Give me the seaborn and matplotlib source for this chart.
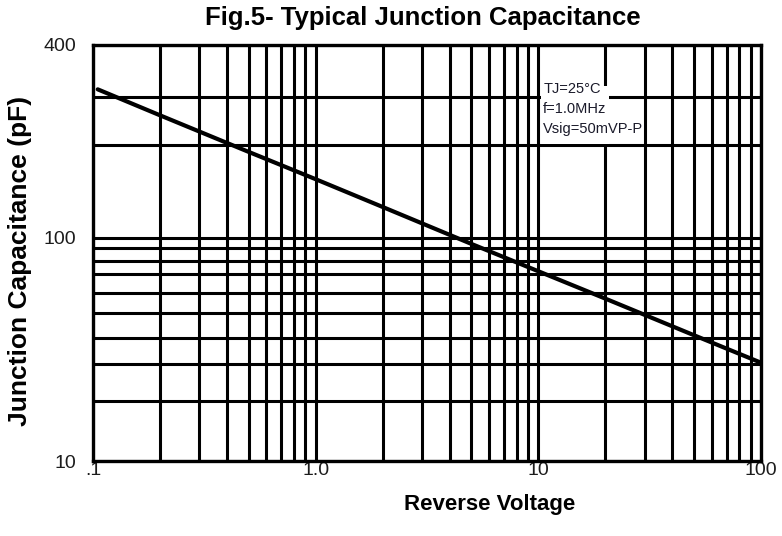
import numpy as np
import pandas as pd
import matplotlib
matplotlib.use("Agg")
import matplotlib.pyplot as plt
import seaborn as sns
from matplotlib.ticker import FixedLocator, FixedFormatter, NullFormatter
from matplotlib.patches import Rectangle

# ---- data ----
voltage = [0.105, 0.2, 0.5, 1.0, 2.0, 5.0, 10.0, 20.0, 50.0, 98.0]
capacitance = [313, 257, 190, 155, 126, 94, 72, 57, 41, 30.7]

x_major = [0.1, 1, 10, 100]
x_major_labels = [".1", "1.0", "10", "100"]
x_minor = [m * d for d in (0.1, 1, 10) for m in range(2, 10)]
y_major = [10, 100, 400]
y_major_labels = ["10", "100", "400"]
y_minor = [20, 30, 40, 50, 60, 70, 80, 90, 200, 300]

title = "Fig.5- Typical Junction Capacitance"
xlabel = "Reverse Voltage"
ylabel = "Junction Capacitance (pF)"
notes = ["TJ=25\u00b0C", "f=1.0MHz", "Vsig=50mVP-P"]

# the printed chart's uneven logarithmic y axis: gridline values and their
# relative height above the 10 pF line
scale_values = [10, 20, 30, 40, 50, 60, 70, 80, 90, 100, 200, 300, 400]
scale_offsets = [0, 60, 97, 123, 148, 168, 187, 200, 213, 223, 316, 364, 416]

lk = np.log10(np.array(scale_values, float))
ok = np.array(scale_offsets, float)


def _interp_ext(x, xp, fp):
    x = np.asarray(x, float)
    y = np.interp(x, xp, fp)
    lo = x < xp[0]
    hi = x > xp[-1]
    s0 = (fp[1] - fp[0]) / (xp[1] - xp[0])
    s1 = (fp[-1] - fp[-2]) / (xp[-1] - xp[-2])
    y = np.where(lo, fp[0] + (x - xp[0]) * s0, y)
    y = np.where(hi, fp[-1] + (x - xp[-1]) * s1, y)
    return y


def fwd(v):
    v = np.asarray(v, float)
    return _interp_ext(np.log10(np.clip(v, 1e-6, None)), lk, ok)


def inv(p):
    return 10 ** _interp_ext(p, ok, lk)


sns.set_style("white")
plt.rcParams["font.family"] = ["Liberation Sans", "DejaVu Sans"]
plt.rcParams["text.color"] = "black"
plt.rcParams["axes.labelcolor"] = "black"

fig = plt.figure(figsize=(7.82, 5.36), dpi=100)
ax = fig.add_axes([93 / 782, 75 / 536, 668 / 782, 416 / 536])

df = pd.DataFrame({"voltage": voltage, "capacitance": capacitance})
sns.lineplot(data=df, x="voltage", y="capacitance", ax=ax, color="black",
             linewidth=3.0, zorder=5)

ax.set_xscale("log")
ax.set_yscale("function", functions=(fwd, inv))
ax.set_xlim(0.1, 100)
ax.set_ylim(10, 400)

ax.xaxis.set_major_locator(FixedLocator(x_major))
ax.xaxis.set_major_formatter(FixedFormatter(x_major_labels))
ax.xaxis.set_minor_locator(FixedLocator(x_minor))
ax.xaxis.set_minor_formatter(NullFormatter())
ax.yaxis.set_major_locator(FixedLocator(y_major))
ax.yaxis.set_major_formatter(FixedFormatter(y_major_labels))
ax.yaxis.set_minor_locator(FixedLocator(y_minor))
ax.yaxis.set_minor_formatter(NullFormatter())

ax.grid(True, which="both", color="black", linewidth=2.2)
ax.tick_params(which="both", length=0)
ax.tick_params(axis="x", which="major", pad=1, labelsize=14, labelcolor="#1c1c1c")
ax.tick_params(axis="y", which="major", pad=12, labelsize=14, labelcolor="#1c1c1c")
for s in ax.spines.values():
    s.set_visible(True)
    s.set_color("black")
    s.set_linewidth(2.4)

ax.set_xlabel(xlabel, fontsize=16, fontweight="bold")
ax.xaxis.set_label_coords(0.594, -0.08)
ax.set_ylabel(ylabel, fontsize=19, fontweight="bold")
ax.yaxis.set_label_coords(-0.092, 0.48)

fig.text(0.541, 0.988, title, ha="center", va="top", fontsize=18.5,
         fontweight="bold")

# white patch behind the condition notes
ax.add_patch(Rectangle((0.671, 0.762), 0.101, 0.139, transform=ax.transAxes,
                       facecolor="white", edgecolor="none", zorder=3))
note_y = [0.885, 0.837, 0.788]
for t, yy in zip(notes, note_y):
    ax.text(0.674, yy, t, transform=ax.transAxes, ha="left", va="baseline",
            fontsize=10.5, color="#1a1a2a", zorder=6,
            family=["Liberation Sans Narrow", "Liberation Sans", "DejaVu Sans"])

fig.savefig("out.png", dpi=100)
